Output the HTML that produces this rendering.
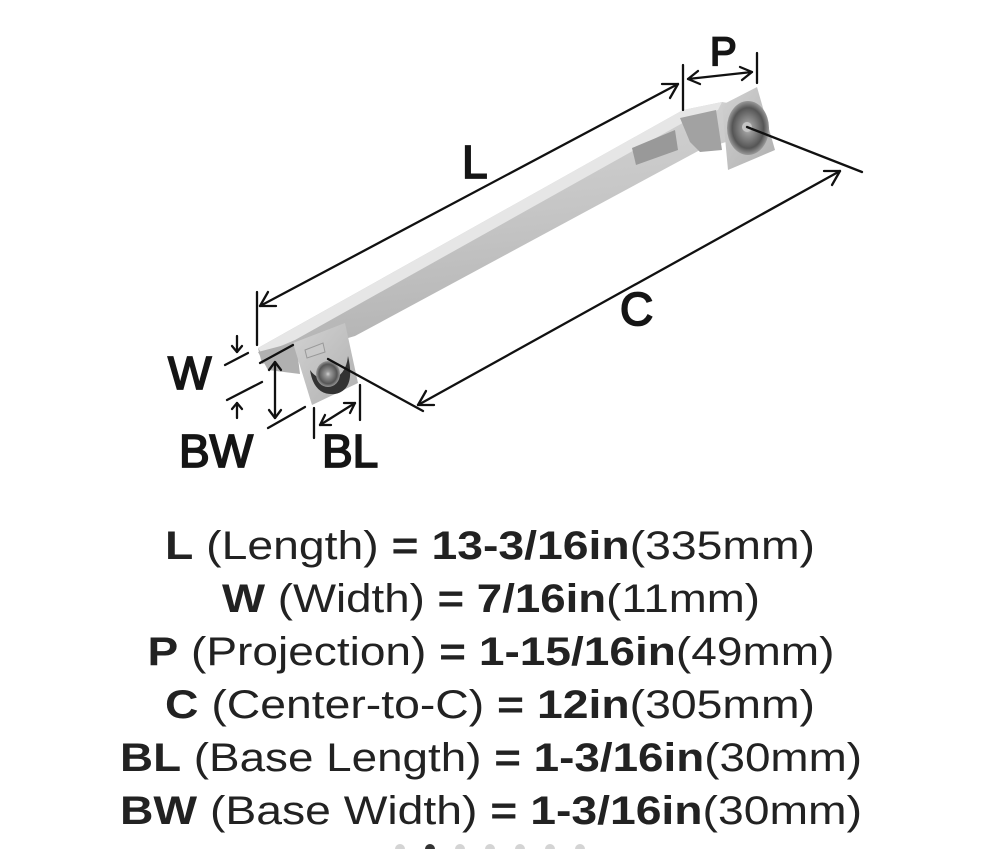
<!DOCTYPE html>
<html><head><meta charset="utf-8"><style>
html,body{margin:0;padding:0;background:#fff;}
svg{display:block;}
</style></head><body>
<svg width="995" height="849" viewBox="0 0 995 849" xmlns="http://www.w3.org/2000/svg">
<defs>
<linearGradient id="bar" x1="0" y1="0" x2="0.2" y2="1">
<stop offset="0" stop-color="#d6d6d6"/><stop offset="0.5" stop-color="#c6c6c6"/><stop offset="1" stop-color="#b2b2b2"/>
</linearGradient>
<linearGradient id="base" x1="0" y1="0" x2="1" y2="1">
<stop offset="0" stop-color="#d2d2d2"/><stop offset="1" stop-color="#b0b0b0"/>
</linearGradient>
<radialGradient id="hole" cx="0.5" cy="0.5" r="0.5">
<stop offset="0" stop-color="#d0d0d0"/><stop offset="0.2" stop-color="#9a9a9a"/><stop offset="0.75" stop-color="#555"/><stop offset="1" stop-color="#999"/>
</radialGradient>
</defs>
<!-- bar -->
<polygon points="258,348 290,330 683,110 722,102 728,103 726,142 700,150 355,336 300,352 262,364" fill="url(#bar)"/>
<polygon points="258,348 290,330 683,110 722,102 718,110 688,120 295,340 262,354" fill="#e6e6e6"/>
<polygon points="680,118 716,110 722,150 700,152 690,142" fill="#a2a2a2"/>
<polygon points="632,148 675,130 678,150 636,165" fill="#999"/>
<polygon points="258,352 296,342 300,374 268,370" fill="#b0b0b0"/>
<!-- left base -->
<polygon points="293,343 345,323 358,383 312,405" fill="url(#base)"/>
<polygon points="305,350 323,343 325,352 307,358" fill="#c9c9c9" stroke="#999" stroke-width="1"/>
<path d="M310,370 Q314,396 335,394 Q356,390 348,356 Q346,376 330,380 Q317,380 310,370Z" fill="#333"/>
<ellipse cx="328" cy="374" rx="12" ry="13" fill="url(#hole)"/>
<!-- right base -->
<polygon points="722,105 757,87 775,150 728,170" fill="url(#base)"/>
<ellipse cx="748" cy="128" rx="21" ry="27" fill="url(#hole)"/>
<circle cx="747" cy="127" r="5" fill="#c4c4c4"/>
<g stroke="#111" stroke-width="2.3" fill="none" stroke-linecap="round" stroke-linejoin="round">
<!-- L -->
<line x1="260" y1="306" x2="678" y2="84"/>
<polyline points="276,306 260,306 268,292"/>
<polyline points="662,84 678,84 670,98"/>
<line x1="257" y1="292" x2="257" y2="345"/>
<line x1="683" y1="65" x2="683" y2="110"/>
<!-- P -->
<line x1="688" y1="79" x2="752" y2="72"/>
<polyline points="700,84 688,79 698,71"/>
<polyline points="740,67 752,72 742,80"/>
<line x1="757" y1="53" x2="757" y2="83"/>
<!-- C -->
<line x1="418" y1="405" x2="840" y2="171"/>
<polyline points="434,405 418,405 426,391"/>
<polyline points="824,171 840,171 832,185"/>
<line x1="747" y1="127" x2="862" y2="172"/>
<line x1="328" y1="359" x2="423" y2="411"/>
<!-- W -->
<line x1="225" y1="365" x2="248" y2="353"/>
<line x1="237" y1="336" x2="237" y2="352"/>
<polyline points="232,346 237,352 242,346"/>
<line x1="227" y1="400" x2="262" y2="382"/>
<line x1="237" y1="403" x2="237" y2="418"/>
<polyline points="232,409 237,403 242,409"/>
<!-- BW -->
<line x1="260" y1="363" x2="293" y2="345"/>
<line x1="275" y1="362" x2="275" y2="418"/>
<polyline points="269,370 275,362 281,370"/>
<polyline points="269,410 275,418 281,410"/>
<line x1="268" y1="428" x2="305" y2="407"/>
<!-- BL -->
<line x1="314" y1="408" x2="314" y2="438"/>
<line x1="360" y1="385" x2="360" y2="420"/>
<line x1="320" y1="425" x2="355" y2="403"/>
<polyline points="331,425 320,425 325,415"/>
<polyline points="344,403 355,403 350,413"/>
</g>
<g font-family="Liberation Sans, sans-serif" fill="#151515" stroke="#151515" stroke-width="1.8" font-size="46">
<text x="462" y="178">L</text>
<text x="620" y="325">C</text>
<text x="710" y="65" font-size="40">P</text>
<text x="168" y="389">W</text>
<text x="179" y="467">BW</text>
<text x="322" y="467">BL</text>
</g>
<g font-family="Liberation Sans, sans-serif" fill="#222" font-size="40" text-anchor="middle">
<text x="490" y="559" textLength="650" lengthAdjust="spacingAndGlyphs"><tspan font-weight="bold">L</tspan> (Length) <tspan font-weight="bold">= 13-3/16in</tspan>(335mm)</text>
<text x="491" y="612" textLength="538" lengthAdjust="spacingAndGlyphs"><tspan font-weight="bold">W</tspan> (Width) <tspan font-weight="bold">= 7/16in</tspan>(11mm)</text>
<text x="491" y="665" textLength="687" lengthAdjust="spacingAndGlyphs"><tspan font-weight="bold">P</tspan> (Projection) <tspan font-weight="bold">= 1-15/16in</tspan>(49mm)</text>
<text x="490" y="718" textLength="650" lengthAdjust="spacingAndGlyphs"><tspan font-weight="bold">C</tspan> (Center-to-C) <tspan font-weight="bold">= 12in</tspan>(305mm)</text>
<text x="491" y="771" textLength="742" lengthAdjust="spacingAndGlyphs"><tspan font-weight="bold">BL</tspan> (Base Length) <tspan font-weight="bold">= 1-3/16in</tspan>(30mm)</text>
<text x="491" y="824" textLength="742" lengthAdjust="spacingAndGlyphs"><tspan font-weight="bold">BW</tspan> (Base Width) <tspan font-weight="bold">= 1-3/16in</tspan>(30mm)</text>
</g>
<g fill="#d4d4d4">
<circle cx="400" cy="849" r="5"/><circle cx="460" cy="849" r="5"/><circle cx="490" cy="849" r="5"/><circle cx="520" cy="849" r="5"/><circle cx="550" cy="849" r="5"/><circle cx="580" cy="849" r="5"/>
</g>
<circle cx="430" cy="849" r="5" fill="#333"/>
</svg>
</body></html>
